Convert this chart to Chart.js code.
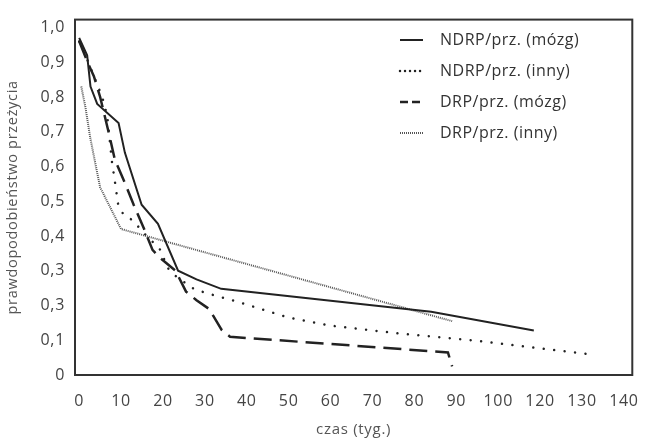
<!DOCTYPE html>
<html>
<head>
<meta charset="utf-8">
<script src="https://cdn.jsdelivr.net/npm/chart.js@4"></script>
<style>
  body { margin: 0; background: #fff; }
</style>
</head>
<body>
<canvas id="survival" width="656" height="441"></canvas>
<script>
// tick labels as printed (the axis has no 110, and 0,3 appears twice)
const xTickLabels = ['0', '10', '20', '30', '40', '50', '60', '70', '80', '90', '100', '120', '130', '140'];
const yTickLabels = ['0', '0,1', '0,3', '0,3', '0,4', '0,5', '0,6', '0,7', '0,8', '0,9', '1,0'];

const seriesNames = ['NDRP/prz. (mózg)', 'NDRP/prz. (inny)', 'DRP/prz. (mózg)', 'DRP/prz. (inny)'];

// weeks / survival probability
const ndrpBrainWeeks = [0, 1.9, 2.7, 4.3, 9.4, 10.9, 14.9, 18.8, 23.6, 28, 33.9, 84, 117];
const ndrpBrainSurv  = [0.97, 0.92, 0.83, 0.78, 0.725, 0.64, 0.49, 0.435, 0.30, 0.275, 0.248, 0.182, 0.128];

const ndrpOtherWeeks = [0, 1.5, 3.5, 5.5, 6.7, 7.8, 8.6, 9.3, 10.5, 12.9, 15.3, 19.2, 21.2, 23.2, 27.6, 32.3, 37.5, 50, 60, 76, 94.5, 133];
const ndrpOtherSurv  = [0.96, 0.92, 0.86, 0.80, 0.745, 0.615, 0.55, 0.49, 0.463, 0.444, 0.41, 0.363, 0.307, 0.283, 0.246, 0.229, 0.212, 0.165, 0.142, 0.12, 0.099, 0.058];

const drpBrainWeeks = [0, 2, 3.5, 5, 7, 8.5, 11, 13, 15.5, 17.5, 19.5, 23, 25.5, 28, 31, 34, 36, 88, 89];
const drpBrainSurv  = [0.96, 0.90, 0.86, 0.80, 0.70, 0.62, 0.55, 0.49, 0.42, 0.36, 0.335, 0.30, 0.24, 0.215, 0.19, 0.13, 0.11, 0.065, 0.025];

const drpOtherWeeks = [0.5, 1.5, 2.6, 4, 5, 10, 89];
const drpOtherSurv  = [0.83, 0.77, 0.685, 0.60, 0.54, 0.42, 0.155];

// the printed axis skips 110, so 120/130/140 sit one step to the left
const toAxis = w => w <= 100 ? w : (w <= 120 ? 100 + (w - 100) / 2 : w - 10);
const points = (weeks, surv) => weeks.map((w, i) => ({ x: toAxis(w), y: surv[i] }));

const FONT = '"Open Sans", sans-serif';
const TEXT = '#444';

// the printed font runs a little wider than Open Sans
const spacing = {
  id: 'spacing',
  beforeLayout(chart) { chart.ctx.letterSpacing = '0.7px'; },
  beforeDraw(chart) { chart.ctx.letterSpacing = '0.7px'; }
};

const frame = {
  id: 'frame',
  afterDatasetsDraw(chart) {
    const { ctx, chartArea: a } = chart;
    ctx.save();
    ctx.strokeStyle = '#333';
    ctx.lineWidth = 2;
    ctx.strokeRect(a.left, a.top, a.right - a.left, a.bottom - a.top);
    ctx.restore();
  }
};

const insideLegend = {
  id: 'insideLegend',
  afterDraw(chart) {
    const ctx = chart.ctx;
    ctx.save();
    ctx.font = '16px ' + FONT;
    ctx.letterSpacing = '0.5px';
    ctx.textBaseline = 'middle';
    chart.data.datasets.forEach((ds, i) => {
      const y = 40 + i * 31;
      ctx.beginPath();
      ctx.strokeStyle = ds.borderColor;
      ctx.lineWidth = ds.borderWidth;
      ctx.lineCap = ds.borderCapStyle || 'butt';
      ctx.setLineDash(ds.legendDash || ds.borderDash || []);
      ctx.moveTo(400, y);
      ctx.lineTo(423, y);
      ctx.stroke();
      ctx.setLineDash([]);
      ctx.fillStyle = '#333';
      ctx.fillText(ds.label, 440, y);
    });
    ctx.restore();
  }
};

new Chart(document.getElementById('survival'), {
  type: 'line',
  data: {
    datasets: [{
      label: seriesNames[0],
      data: points(ndrpBrainWeeks, ndrpBrainSurv),
      borderColor: '#222',
      borderWidth: 2
    }, {
      label: seriesNames[1],
      data: points(ndrpOtherWeeks, ndrpOtherSurv),
      borderColor: '#222',
      borderWidth: 2.5,
      borderCapStyle: 'round',
      borderDash: [0.01, 10.5],
      legendDash: [0.01, 5]
    }, {
      label: seriesNames[2],
      data: points(drpBrainWeeks, drpBrainSurv),
      borderColor: '#222',
      borderWidth: 2.5,
      borderDash: [18, 8],
      legendDash: [8, 4]
    }, {
      label: seriesNames[3],
      data: points(drpOtherWeeks, drpOtherSurv),
      borderColor: '#555',
      borderWidth: 2,
      borderDash: [1, 1]
    }]
  },
  options: {
    responsive: false,
    animation: false,
    layout: { padding: { top: 14, right: 21, left: 0, bottom: 0 } },
    elements: { point: { radius: 0 }, line: { tension: 0, fill: false } },
    plugins: { legend: { display: false }, tooltip: { enabled: false } },
    scales: {
      x: {
        type: 'linear',
        min: -1,
        max: 132,
        afterBuildTicks: s => { s.ticks = xTickLabels.map((_, i) => ({ value: i * 10 })); },
        afterFit: s => { s.height = 66; },
        grid: { display: false, drawTicks: false },
        border: { display: false },
        ticks: {
          autoSkip: false,
          maxRotation: 0,
          padding: 17,
          color: TEXT,
          font: { family: FONT, size: 16 },
          callback: (v, i) => xTickLabels[i]
        },
        title: {
          display: true,
          text: 'czas (tyg.)',
          color: '#555',
          font: { family: FONT, size: 15 },
          padding: { top: 0, bottom: 2 }
        }
      },
      y: {
        min: 0,
        max: 1.0227,
        afterBuildTicks: s => { s.ticks = yTickLabels.map((_, i) => ({ value: i / 10 })); },
        afterFit: s => { s.width = 75; },
        grid: { display: false, drawTicks: false },
        border: { display: false },
        ticks: {
          autoSkip: false,
          padding: 10,
          color: TEXT,
          font: { family: FONT, size: 16 },
          callback: (v, i) => yTickLabels[i]
        },
        title: {
          display: true,
          text: 'prawdopodobieństwo przeżycia',
          color: '#555',
          font: { family: FONT, size: 14.5 },
          padding: { top: 4, bottom: 0 }
        }
      }
    }
  },
  plugins: [spacing, frame, insideLegend]
});
</script>
</body>
</html>
